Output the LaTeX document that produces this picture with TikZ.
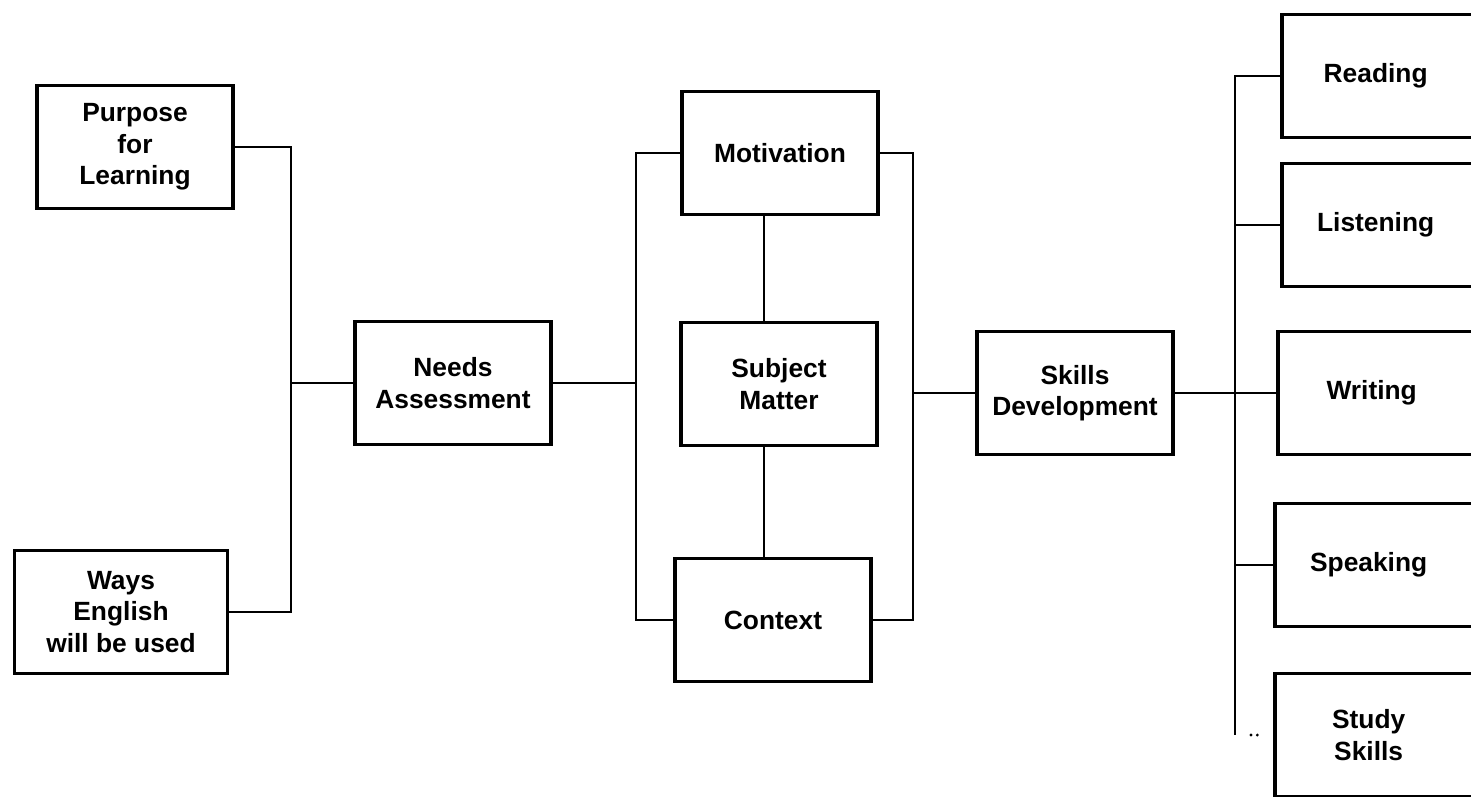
\documentclass[tikz,border=0pt]{standalone}
\usepackage{fontspec}
\setmainfont{Liberation Sans}
\begin{document}
\begin{tikzpicture}[x=0.02cm,y=-0.02cm,
box/.style={draw=black,line width=2.2pt,fill=white,align=center,inner sep=0pt,
 minimum width=3.92cm,minimum height=2.46cm,font=\fontsize{15}{18}\selectfont\bfseries},
skillbox/.style={box,minimum width=4.2cm,anchor=west},
link/.style={line width=1.2pt}]
\clip (0,0) rectangle (1471,796);
\fill[white] (0,0) rectangle (1471,796);
\coordinate (bus1) at (291,0);
\coordinate (bus2) at (636,0);
\coordinate (stem) at (764,0);
\coordinate (bus3) at (913,0);
\coordinate (bus4) at (1235,0);
\node[box] (purpose) at (135,147) {Purpose\\for\\Learning};
\node[box,minimum width=4.26cm] (ways) at (121,612) {Ways\\English\\will be used};
\node[box] (needs) at (453,383) {Needs\\Assessment};
\node[box] (motivation) at (780,153) {Motivation};
\node[box] (subject) at (779,384) {Subject\\Matter};
\node[box] (context) at (773,620) {Context};
\node[box] (skills) at (1075,393) {Skills\\Development};
\node[skillbox] (reading) at (1280,76) {\hspace*{-0.45cm}Reading};
\node[skillbox] (listening) at (1280,225) {\hspace*{-0.45cm}Listening};
\node[skillbox] (writing) at (1276,393) {\hspace*{-0.45cm}Writing};
\node[skillbox] (speaking) at (1273,565) {\hspace*{-0.45cm}Speaking};
\node[skillbox] (study) at (1273,735) {\hspace*{-0.45cm}Study\\\hspace*{-0.45cm}Skills};
\draw[link] (purpose.east) -| (bus1 |- ways.east) -- (ways.east);
\draw[link] (needs.west) -- (needs.west -| bus1);
\draw[link] (needs.east) -- (needs.east -| bus2);
\draw[link] (motivation.west) -| (bus2 |- context.west) -- (context.west);
\draw[link] (motivation.south -| stem) -- (subject.north -| stem);
\draw[link] (subject.south -| stem) -- (context.north -| stem);
\draw[link] (motivation.east) -| (bus3 |- context.east) -- (context.east);
\draw[link] (skills.west) -- (skills.west -| bus3);
\draw[link] (skills.east) -- (writing.west);
\draw[link] (reading.west) -| (bus4 |- study.west);
\draw[link] (listening.west) -- (listening.west -| bus4);
\draw[link] (speaking.west) -- (speaking.west -| bus4);
\draw[line width=1.8pt,line cap=round,dash pattern=on 0pt off 3.6pt on 0pt off 100pt]
 ([xshift=0.32cm]study.west -| bus4) -- (study.west);
\end{tikzpicture}
\end{document}
